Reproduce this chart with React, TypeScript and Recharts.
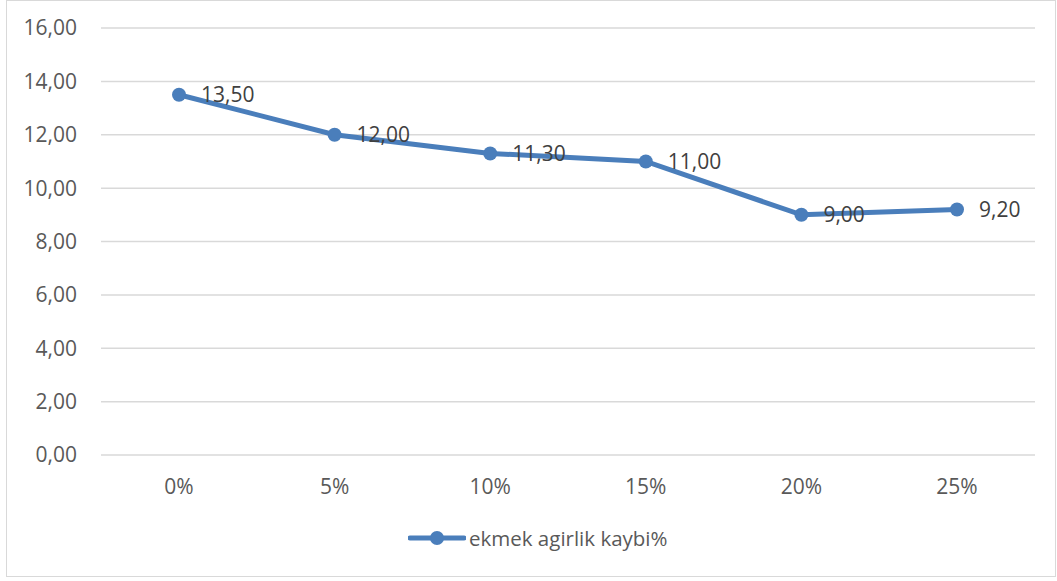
import { LineChart, Line, XAxis, YAxis, CartesianGrid, LabelList } from 'recharts';

const categories = ['0%', '5%', '10%', '15%', '20%', '25%'];
const weightLoss = [13.5, 12.0, 11.3, 11.0, 9.0, 9.2];
const yTicks = [0, 2, 4, 6, 8, 10, 12, 14, 16];
const seriesName = 'ekmek agirlik kaybi%';

const BLUE = '#4a7ebb';
const TEXT = '#595959';
const FONT = '"Open Sans", "Liberation Sans", sans-serif';

const fmt = (v: number) => v.toFixed(2).replace('.', ',');

const data = categories.map((c, i) => ({ name: c, value: weightLoss[i] }));

export default function App() {
  return (
    <div
      style={{
        position: 'absolute',
        left: 6,
        top: 0,
        width: 1048,
        height: 575,
        border: '1px solid #d9d9d9',
        background: '#fff',
        fontFamily: FONT,
      }}
    >
      <LineChart
        width={1048}
        height={575}
        data={data}
        margin={{ top: 27, right: 20, left: 0, bottom: 61 }}
      >
        <CartesianGrid vertical={false} stroke="#d9d9d9" strokeWidth={1.5} />
        <XAxis
          dataKey="name"
          height={60}
          padding={{ left: 78, right: 78 }}
          axisLine={false}
          tickLine={false}
          tickSize={0}
          tickMargin={24}
          tick={{ fill: TEXT, fontSize: 21, fontFamily: FONT }}
        />
        <YAxis
          width={94}
          domain={[0, 16]}
          ticks={yTicks}
          axisLine={false}
          tickLine={false}
          tickSize={0}
          tickMargin={24}
          tickFormatter={fmt}
          tick={{ fill: TEXT, fontSize: 21, fontFamily: FONT }}
        />
        <Line
          type="linear"
          dataKey="value"
          name={seriesName}
          stroke={BLUE}
          strokeWidth={5}
          dot={{ r: 7, fill: BLUE, stroke: BLUE, strokeWidth: 0 }}
          isAnimationActive={false}
        >
          <LabelList
            dataKey="value"
            position="right"
            offset={22}
            formatter={(v: number) => fmt(v)}
            style={{ fill: '#404040', fontSize: 21, fontFamily: FONT }}
          />
        </Line>
      </LineChart>
      <div
        style={{
          position: 'absolute',
          left: 401,
          top: 522,
          height: 30,
          display: 'flex',
          alignItems: 'center',
          color: TEXT,
          fontSize: 20.5,
        }}
      >
        <svg width={58} height={16} style={{ marginRight: 3 }}>
          <line x1={2} y1={8} x2={56} y2={8} stroke={BLUE} strokeWidth={5} strokeLinecap="round" />
          <circle cx={29} cy={8} r={7} fill={BLUE} />
        </svg>
        <span>{seriesName}</span>
      </div>
    </div>
  );
}
